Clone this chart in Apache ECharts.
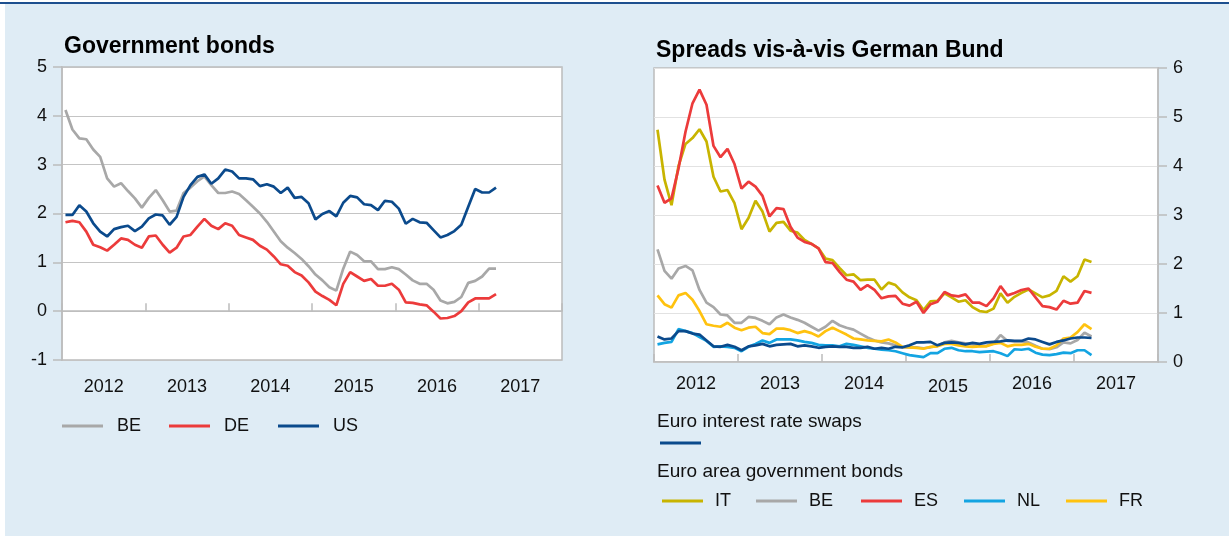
<!DOCTYPE html>
<html>
<head>
<meta charset="utf-8">
<script src="https://cdn.jsdelivr.net/npm/echarts@6/dist/echarts.min.js"></script>
<style>
  html, body { margin: 0; padding: 0; background: #ffffff; }
  #wrap { position: relative; width: 1229px; height: 536px; overflow: hidden; }
  #topline { position: absolute; left: 0; top: 2px; width: 1229px; height: 1.5px; background: #1d4f8f; }
  #panel { position: absolute; left: 5px; top: 4px; right: 0; bottom: 0; background: #dfecf5; }
  #chart { position: absolute; left: 0; top: 0; width: 1229px; height: 536px; }
</style>
</head>
<body>
<div id="wrap">
  <div id="topline"></div>
  <div id="panel"></div>
  <div id="chart"></div>
</div>
<script>
// ---- Data (monthly, Jan 2012 - Mar 2017) ----
const startYear = 2012;
const months = [];
for (let y = 2012; y <= 2017; y++) {
  for (let m = 1; m <= 12; m++) {
    if (y === 2017 && m > 3) break;
    months.push(y + '-' + String(m).padStart(2, '0'));
  }
}
const yearLabels = ['2012', '2013', '2014', '2015', '2016', '2017'];

// Left panel: Government bonds (10-year yields, %)
const govBE = [4.12,3.72,3.54,3.52,3.31,3.16,2.72,2.55,2.62,2.46,
  2.31,2.12,2.32,2.48,2.27,2.04,2.06,2.42,2.53,2.66,
  2.76,2.58,2.42,2.42,2.45,2.40,2.27,2.14,2.00,1.83,
  1.63,1.43,1.30,1.19,1.07,0.92,0.75,0.63,0.49,0.42,
  0.87,1.22,1.15,1.02,1.02,0.86,0.86,0.90,0.86,0.75,
  0.63,0.56,0.56,0.44,0.22,0.16,0.19,0.29,0.58,0.62,
  0.71,0.87,0.87];
const govDE = [1.82,1.85,1.82,1.63,1.36,1.31,1.24,1.36,1.49,1.46,
  1.36,1.30,1.53,1.55,1.36,1.20,1.30,1.53,1.56,1.73,
  1.89,1.75,1.68,1.80,1.75,1.56,1.51,1.46,1.34,1.26,
  1.12,0.96,0.93,0.80,0.73,0.59,0.40,0.31,0.23,0.12,
  0.56,0.80,0.71,0.62,0.66,0.52,0.52,0.56,0.44,0.18,
  0.17,0.14,0.12,-0.01,-0.15,-0.14,-0.10,0.00,0.18,0.26,
  0.26,0.26,0.35];
const govUS = [1.97,1.97,2.17,2.04,1.80,1.63,1.53,1.68,1.72,1.75,
  1.64,1.73,1.90,1.98,1.96,1.77,1.93,2.34,2.58,2.75,
  2.80,2.61,2.72,2.90,2.86,2.72,2.72,2.70,2.56,2.60,
  2.55,2.42,2.53,2.32,2.34,2.21,1.88,1.99,2.05,1.94,
  2.22,2.36,2.33,2.19,2.17,2.07,2.26,2.24,2.10,1.79,
  1.89,1.82,1.81,1.66,1.51,1.56,1.64,1.77,2.14,2.50,
  2.43,2.43,2.53];

// Right panel: spreads vis-a-vis German Bund (percentage points)
const sprIT = [4.74,3.72,3.20,4.00,4.45,4.57,4.75,4.50,3.78,3.48,
  3.51,3.24,2.71,2.94,3.29,3.07,2.66,2.84,2.86,2.68,
  2.64,2.49,2.41,2.32,2.11,2.08,1.92,1.77,1.79,1.67,
  1.68,1.68,1.48,1.62,1.57,1.42,1.32,1.26,1.06,1.24,
  1.25,1.40,1.32,1.23,1.26,1.12,1.04,1.02,1.09,1.40,
  1.21,1.33,1.41,1.48,1.40,1.32,1.36,1.45,1.75,1.64,
  1.75,2.09,2.04];
const sprBE = [2.30,1.86,1.70,1.91,1.96,1.87,1.47,1.21,1.12,0.97,
  0.95,0.80,0.80,0.92,0.90,0.84,0.77,0.91,0.97,0.91,
  0.86,0.80,0.72,0.64,0.72,0.84,0.75,0.70,0.66,0.58,
  0.50,0.44,0.40,0.38,0.34,0.30,0.30,0.30,0.28,0.30,
  0.33,0.40,0.43,0.40,0.38,0.36,0.33,0.33,0.38,0.55,
  0.43,0.42,0.42,0.40,0.33,0.27,0.26,0.30,0.40,0.38,
  0.45,0.60,0.52];
const sprES = [3.60,3.25,3.34,3.95,4.70,5.28,5.56,5.25,4.41,4.18,
  4.35,4.04,3.54,3.68,3.58,3.39,2.97,3.14,3.12,2.76,
  2.54,2.45,2.41,2.32,2.04,2.02,1.84,1.68,1.64,1.47,
  1.57,1.47,1.30,1.34,1.35,1.19,1.15,1.23,1.00,1.18,
  1.23,1.43,1.36,1.34,1.38,1.21,1.21,1.14,1.30,1.55,
  1.36,1.41,1.47,1.50,1.32,1.14,1.12,1.07,1.25,1.19,
  1.21,1.45,1.41];
const sprNL = [0.36,0.39,0.41,0.67,0.63,0.59,0.51,0.43,0.31,0.32,
  0.31,0.29,0.22,0.31,0.37,0.44,0.39,0.46,0.46,0.46,
  0.44,0.41,0.39,0.35,0.34,0.34,0.32,0.37,0.35,0.32,
  0.29,0.27,0.25,0.24,0.22,0.18,0.14,0.12,0.10,0.18,
  0.18,0.27,0.29,0.24,0.22,0.22,0.20,0.21,0.22,0.18,
  0.12,0.26,0.25,0.27,0.19,0.15,0.14,0.16,0.19,0.18,
  0.24,0.24,0.14];
const sprFR = [1.36,1.18,1.11,1.36,1.41,1.27,1.04,0.77,0.74,0.72,
  0.80,0.70,0.65,0.70,0.72,0.59,0.57,0.68,0.68,0.65,
  0.59,0.63,0.59,0.52,0.63,0.70,0.63,0.56,0.48,0.46,
  0.44,0.43,0.42,0.46,0.40,0.31,0.30,0.29,0.27,0.31,
  0.32,0.37,0.37,0.34,0.32,0.31,0.32,0.32,0.37,0.39,
  0.32,0.35,0.35,0.37,0.31,0.27,0.27,0.34,0.48,0.50,
  0.61,0.77,0.67];
const sprSwaps = [0.52,0.46,0.48,0.63,0.63,0.58,0.56,0.44,0.32,0.31,
  0.35,0.31,0.24,0.32,0.34,0.37,0.32,0.35,0.36,0.37,
  0.32,0.34,0.32,0.29,0.31,0.32,0.31,0.31,0.29,0.29,
  0.31,0.27,0.29,0.27,0.31,0.30,0.34,0.40,0.40,0.41,
  0.34,0.39,0.40,0.39,0.36,0.39,0.37,0.40,0.41,0.42,
  0.44,0.43,0.43,0.48,0.46,0.41,0.36,0.41,0.44,0.48,
  0.50,0.50,0.49];

// ---- Styling ----
const C = {
  gray: '#a8a8a8', red: '#ec3b3b', navy: '#0b4a8c',
  olive: '#c8b400', sky: '#13a4e2', gold: '#ffc20f'
};
const FONT = '"Liberation Sans", Arial, sans-serif';
const TXT = '#111111';

// month label -> x position in months since Jan 2012 (mid-month)
function monthPos(label) {
  const [y, m] = label.split('-').map(Number);
  return (y - startYear) * 12 + (m - 1) + 0.5;
}
function pairs(values) {
  return values.map((v, i) => [monthPos(months[i]), v]);
}
function lineSeries(name, values, color, xi, yi) {
  return {
    type: 'line', name: name, data: pairs(values),
    xAxisIndex: xi, yAxisIndex: yi,
    showSymbol: false, symbol: 'none', smooth: false,
    lineStyle: { color: color, width: 2.7 }, itemStyle: { color: color },
    emphasis: { disabled: true }, animation: false
  };
}
function yearLabel(v) {
  if (v % 12 !== 6) return '';
  const idx = (v - 6) / 12;
  return yearLabels[idx];
}
function legendItem(name, left, top, showText, gap) {
  return {
    data: [name], left: left, top: top, orient: 'horizontal',
    icon: 'rect', itemWidth: 41, itemHeight: 3, padding: 0,
    selectedMode: false,
    formatter: showText === false ? function () { return ''; } : undefined,
    textStyle: { fontSize: 18, fontFamily: FONT, color: TXT, padding: [0, 0, 0, gap || 7] }
  };
}

const chart = echarts.init(document.getElementById('chart'), null, { renderer: 'canvas' });

const option = {
  backgroundColor: 'transparent',
  animation: false,
  textStyle: { fontFamily: FONT },
  title: [
    { text: 'Government bonds', left: 64, top: 35, padding: 0,
      textStyle: { fontSize: 23, fontWeight: 'bold', fontFamily: FONT, color: '#000' } },
    { text: 'Spreads vis-à-vis German Bund', left: 656, top: 39, padding: 0,
      textStyle: { fontSize: 23, fontWeight: 'bold', fontFamily: FONT, color: '#000' } },
    { text: 'Euro interest rate swaps', left: 657, top: 412, padding: 0,
      textStyle: { fontSize: 19, fontWeight: 'normal', fontFamily: FONT, color: TXT } },
    { text: 'Euro area government bonds', left: 657, top: 462, padding: 0,
      textStyle: { fontSize: 19, fontWeight: 'normal', fontFamily: FONT, color: TXT } }
  ],
  legend: [
    legendItem('BE', 62, 417, true, 9),
    legendItem('DE', 169, 417, true, 9),
    legendItem('US', 278, 417, true, 9),
    legendItem('Euro interest rate swaps', 660, 441.5, false),
    legendItem('IT', 662, 492),
    legendItem('BE', 756, 492),
    legendItem('ES', 861, 492),
    legendItem('NL', 964, 492),
    legendItem('FR', 1066, 492)
  ],
  grid: [
    { left: 62, top: 67, width: 500, height: 293, show: true,
      backgroundColor: '#ffffff', borderColor: '#bcbcbc', borderWidth: 1.5, containLabel: false },
    { left: 654, top: 68, width: 504, height: 294, show: true,
      backgroundColor: '#ffffff', borderColor: '#bcbcbc', borderWidth: 1.5, containLabel: false }
  ],
  xAxis: [
    // left: ticks on the zero line
    { gridIndex: 0, type: 'value', min: 0, max: 72, interval: 12, position: 'bottom',
      axisLine: { show: true, onZero: true, lineStyle: { color: '#bcbcbc', width: 1.5 } },
      axisTick: { show: true, inside: true, length: 8, lineStyle: { color: '#bcbcbc', width: 1.5 } },
      axisLabel: { show: false }, splitLine: { show: false } },
    // left: year labels centred on each year
    { gridIndex: 0, type: 'value', min: 0, max: 72, interval: 6, position: 'bottom',
      axisLine: { show: false, onZero: false }, axisTick: { show: false }, splitLine: { show: false },
      axisLabel: { show: true, margin: 18, fontSize: 18, color: TXT, fontFamily: FONT,
        showMinLabel: true, showMaxLabel: true, formatter: yearLabel } },
    // right: ticks
    { gridIndex: 1, type: 'value', min: 0, max: 72, interval: 12, position: 'bottom',
      axisLine: { show: true, onZero: true, lineStyle: { color: '#bcbcbc', width: 1.5 } },
      axisTick: { show: true, inside: true, length: 8, lineStyle: { color: '#bcbcbc', width: 1.5 } },
      axisLabel: { show: false }, splitLine: { show: false } },
    // right: year labels
    { gridIndex: 1, type: 'value', min: 0, max: 72, interval: 6, position: 'bottom',
      axisLine: { show: false, onZero: false }, axisTick: { show: false }, splitLine: { show: false },
      axisLabel: { show: true, margin: 13, fontSize: 18, color: TXT, fontFamily: FONT,
        showMinLabel: true, showMaxLabel: true,
        formatter: function (v) { const s = yearLabel(v); return s === '2015' ? '{low|' + s + '}' : s; },
        rich: { low: { fontSize: 18, fontFamily: FONT, color: TXT, padding: [3, 0, 0, 0] } } } }
  ],
  yAxis: [
    { gridIndex: 0, type: 'value', min: -1, max: 5, interval: 1, position: 'left',
      axisLine: { show: true, onZero: false, lineStyle: { color: '#bcbcbc', width: 1.5 } },
      axisTick: { show: true, inside: false, length: 9, lineStyle: { color: '#bcbcbc', width: 1.5 } },
      axisLabel: { margin: 15, fontSize: 18, color: TXT, fontFamily: FONT },
      splitLine: { show: true, lineStyle: { color: '#c4c4c4', width: 1.2 } } },
    { gridIndex: 1, type: 'value', min: 0, max: 6, interval: 1, position: 'right',
      axisLine: { show: true, onZero: false, lineStyle: { color: '#bcbcbc', width: 1.5 } },
      axisTick: { show: true, inside: false, length: 9, lineStyle: { color: '#bcbcbc', width: 1.5 } },
      axisLabel: { margin: 15, fontSize: 18, color: TXT, fontFamily: FONT },
      splitLine: { show: true, lineStyle: { color: '#e2e2e2', width: 1.2 } } }
  ],
  series: [
    lineSeries('BE', govBE, C.gray, 0, 0),
    lineSeries('DE', govDE, C.red, 0, 0),
    lineSeries('US', govUS, C.navy, 0, 0),
    lineSeries('BE', sprBE, C.gray, 2, 1),
    lineSeries('FR', sprFR, C.gold, 2, 1),
    lineSeries('NL', sprNL, C.sky, 2, 1),
    lineSeries('IT', sprIT, C.olive, 2, 1),
    lineSeries('ES', sprES, C.red, 2, 1),
    lineSeries('Euro interest rate swaps', sprSwaps, C.navy, 2, 1)
  ]
};
chart.setOption(option);
</script>
</body>
</html>
